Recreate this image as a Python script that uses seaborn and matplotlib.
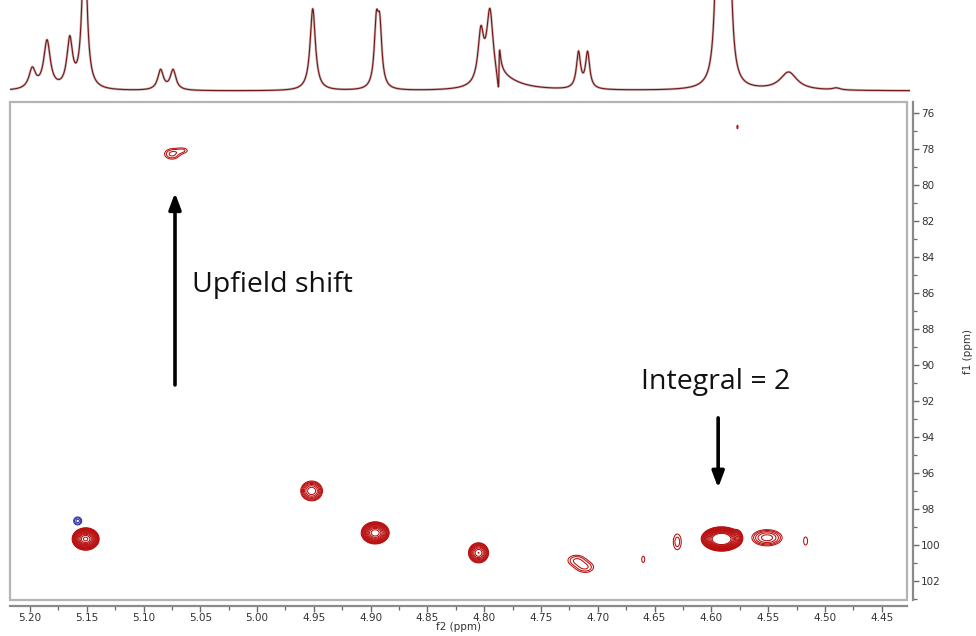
import numpy as np
import pandas as pd
import matplotlib
matplotlib.use("Agg")
import matplotlib.pyplot as plt
from matplotlib.patches import Rectangle
from matplotlib.ticker import MultipleLocator, FormatStrFormatter
import seaborn as sns

# ---------------- data ----------------
# 1D proton projection: peak list (ppm, height in px above baseline, half width ppm)
proj_ppm    = [5.198, 5.185, 5.165, 5.152, 5.085, 5.074, 4.951, 4.895, 4.892,
               4.803, 4.795, 4.785, 4.717, 4.709, 4.594, 4.585, 4.532, 4.490]
proj_height = [20, 48, 48, 160, 20, 20, 82, 60, 56,
               50, 72, 9, 36, 36, 220, 220, 18, 2]
proj_width  = [0.0035, 0.0035, 0.0030, 0.0025, 0.0030, 0.0030, 0.0028, 0.0022, 0.0022,
               0.0030, 0.0035, 0.0200, 0.0022, 0.0022, 0.0025, 0.0025, 0.0090, 0.0040]
# dispersive artefact in the projection
disp_ppm, disp_amp, disp_width = [4.787], [-40], [0.0006]

# 2D cross peaks: f2 ppm, f1 ppm, amplitude (contour units), sigma f2, sigma f1
pk_f2    = [5.151, 4.952, 4.896, 4.805, 4.719, 4.711, 4.660, 4.630, 4.591, 4.577,
            4.551, 4.517, 5.075, 5.065, 4.577, 5.158]
pk_f1    = [99.67, 97.00, 99.33, 100.44, 100.85, 101.25, 100.80, 99.83, 99.67, 99.55,
            99.60, 99.78, 78.28, 78.08, 76.78, 98.67]
pk_amp   = [55, 8, 36, 15, 1.8, 1.8, 1.1, 1.6, 140, 3,
            4, 1.15, 2.0, 1.25, 1.06, -2.5]
pk_sx    = [0.0042, 0.0047, 0.0046, 0.0038, 0.0065, 0.0065, 0.0030, 0.0036, 0.0057, 0.0022,
            0.0080, 0.0033, 0.0055, 0.0045, 0.0015, 0.0026]
pk_sy    = [0.22, 0.27, 0.23, 0.24, 0.25, 0.25, 0.40, 0.45, 0.215, 0.22,
            0.27, 0.42, 0.24, 0.15, 0.30, 0.165]

x_ticks = [5.20, 5.15, 5.10, 5.05, 5.00, 4.95, 4.90, 4.85, 4.80, 4.75, 4.70, 4.65, 4.60, 4.55, 4.50, 4.45]
y_ticks = [76, 78, 80, 82, 84, 86, 88, 90, 92, 94, 96, 98, 100, 102]

annot_up_text = "Upfield shift"
annot_int_text = "Integral = 2"

# ---------------- figure ----------------
sns.set_theme(style="white")
plt.rcParams['font.family'] = ['DejaVu Sans']

W, H = 976, 636
fig = plt.figure(figsize=(W / 100, H / 100), dpi=100)

XL, XR = 5.2176, 4.4277
YB, YT = 103.06, 75.39

left, right, top, bottom = 10, 907, 102, 600
ax = fig.add_axes([left / W, 1 - bottom / H, (right - left) / W, (bottom - top) / H])
axp = fig.add_axes([left / W, 1 - 97 / H, (right - left + 3) / W, 97 / H])

# ----- projection -----
xs = np.linspace(XL, XR - 0.003, 5000)
spec = np.zeros_like(xs)
for c, h, w in zip(proj_ppm, proj_height, proj_width):
    spec += h / (1 + ((xs - c) / w) ** 2)
for c, a, w in zip(disp_ppm, disp_amp, disp_width):
    d = (xs - c) / w
    spec += a * d / (1 + d ** 2)
df = pd.DataFrame({"ppm": xs, "I": spec})
sns.lineplot(data=df, x="ppm", y="I", ax=axp, color="#c9bcbc", lw=1.8, sort=False)
sns.lineplot(data=df, x="ppm", y="I", ax=axp, color="#7a1414", lw=0.8, sort=False)
axp.set_xlim(XL, XR - 0.0026)
axp.set_ylim(-6, 91)
axp.axis("off")

# ----- 2D contours -----
gx = np.linspace(XL, XR, 2200)
gy = np.linspace(YT, YB, 900)
GX, GY = np.meshgrid(gx, gy)
Z = np.zeros_like(GX)
for cx, cy, a, sx, sy in zip(pk_f2, pk_f1, pk_amp, pk_sx, pk_sy):
    Z += a * np.exp(-((GX - cx) ** 2) / (2 * sx ** 2) - ((GY - cy) ** 2) / (2 * sy ** 2))
pos_levels = [1.0 * 1.35 ** k for k in range(14)]
neg_levels = sorted([-1.0 * 1.45 ** k for k in range(3)])
ax.contour(GX, GY, Z, levels=pos_levels, colors="#b80f0f", linewidths=0.75)
ax.contour(GX, GY, Z, levels=neg_levels, colors="#2a2aa8", linewidths=0.75, linestyles="solid")

ax.set_xlim(XL, XR)
ax.set_ylim(YB, YT)

# box
ax.add_patch(Rectangle((0, 0), 1, 1, transform=ax.transAxes, fill=False,
                       edgecolor="#b4b4b4", lw=1.6, clip_on=False, zorder=5))
for s in ["top", "left"]:
    ax.spines[s].set_visible(False)
for s in ["bottom", "right"]:
    ax.spines[s].set_visible(True)
    ax.spines[s].set_color("#8a8a8a")
    ax.spines[s].set_linewidth(1.6)
ax.spines["bottom"].set_position(("outward", 4))
ax.spines["right"].set_position(("outward", 4.5))

ax.set_xticks(x_ticks)
ax.xaxis.set_minor_locator(MultipleLocator(0.025))
ax.xaxis.set_major_formatter(FormatStrFormatter("%.2f"))
ax.yaxis.tick_right()
ax.set_yticks(y_ticks)
ax.yaxis.set_minor_locator(MultipleLocator(1))
ax.yaxis.set_label_position("right")
ax.tick_params(axis="both", which="major", direction="out", length=4, width=1.0,
               color="#6a6a6a", labelsize=7.5, labelcolor="#333333", pad=1.5)
ax.tick_params(axis="both", which="minor", direction="out", length=3, width=0.9, color="#6a6a6a")
ax.tick_params(axis="x", which="both", bottom=True, top=False)
ax.tick_params(axis="y", which="both", right=True, left=False)

ax.set_xlabel("f2 (ppm)", fontsize=7.5, color="#333333", labelpad=-1)
ax.set_ylabel("f1 (ppm)", fontsize=7.5, color="#333333", labelpad=16, rotation=90)

# annotations
ax.annotate("", xy=(5.0723, 80.44), xytext=(5.0723, 91.11),
            arrowprops=dict(arrowstyle="-|>,head_length=0.8,head_width=0.3", lw=2.6, color="black",
                            shrinkA=0, shrinkB=0))
ax.annotate("", xy=(4.594, 96.83), xytext=(4.594, 92.94),
            arrowprops=dict(arrowstyle="-|>,head_length=0.8,head_width=0.3", lw=2.6, color="black",
                            shrinkA=0, shrinkB=0))
ax.text(5.0573, 85.94, annot_up_text, fontsize=20.5, family=["Open Sans", "DejaVu Sans"],
        color="#111111", va="baseline", ha="left")
ax.text(4.662, 91.33, annot_int_text, fontsize=20.5, family=["Open Sans", "DejaVu Sans"],
        color="#111111", va="baseline", ha="left")

fig.savefig("out.png", dpi=100)
